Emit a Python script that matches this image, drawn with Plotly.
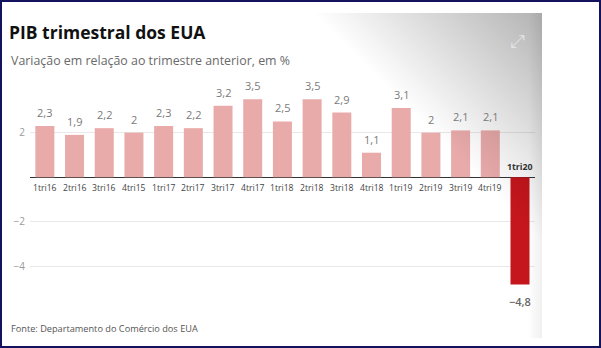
import base64
import plotly.graph_objects as go

categories = ["1tri16", "2tri16", "3tri16", "4tri15", "1tri17", "2tri17", "3tri17", "4tri17",
              "1tri18", "2tri18", "3tri18", "4tri18", "1tri19", "2tri19", "3tri19", "4tri19", "1tri20"]
values = [2.3, 1.9, 2.2, 2.0, 2.3, 2.2, 3.2, 3.5, 2.5, 3.5, 2.9, 1.1, 3.1, 2.0, 2.1, 2.1, -4.8]
y_tickvals = [-4, -2, 2]

W_FIG, H_FIG = 601, 348
L, T, PW, PH = 30, 88, 505, 212
Y_RANGE = [-5.5, 4.0]

PINK = "#e9aaaa"
RED = "#c4161c"
FONT = "Open Sans"


def fmt(v):
    s = ("%g" % abs(v)).replace(".", ",")
    return ("\u2212" + s) if v < 0 else s


def px_x(px):
    return (px - L) / PW


def px_y(py):
    return 1 - (py - T) / PH


colors = [RED if v < 0 else PINK for v in values]

fig = go.Figure()
fig.add_trace(go.Bar(x=categories, y=values, marker=dict(color=colors, line=dict(width=0)),
                     hoverinfo="skip"))

annotations = []
for c, v in zip(categories, values):
    if v >= 0:
        annotations.append(dict(x=c, y=v, text=fmt(v), showarrow=False, yanchor="bottom", yshift=4,
                                font=dict(family=FONT, size=11, color="#7a7a7a")))
        annotations.append(dict(x=c, y=0, text=c, showarrow=False, yanchor="top", yshift=-3,
                                font=dict(family=FONT, size=8.6, color="#444444")))
    else:
        annotations.append(dict(x=c, y=v, text=fmt(v), showarrow=False, yanchor="top", yshift=-8,
                                font=dict(family=FONT, size=11, color="#666666", weight=600)))
        annotations.append(dict(x=c, y=0, text=c, showarrow=False, yanchor="bottom", yshift=2,
                                font=dict(family=FONT, size=8.8, color="#333333", weight=700)))

annotations.append(dict(xref="paper", yref="paper", x=px_x(9), y=px_y(60), xanchor="left", yanchor="middle",
                        text="Variação em relação ao trimestre anterior, em %", showarrow=False,
                        font=dict(family=FONT, size=12.4, color="#6a6a6a")))
annotations.append(dict(xref="paper", yref="paper", x=px_x(9), y=px_y(328), xanchor="left", yanchor="middle",
                        text="Fonte: Departamento do Comércio dos EUA", showarrow=False,
                        font=dict(family=FONT, size=9.2, color="#555555")))
annotations.append(dict(xref="paper", yref="paper", x=px_x(517), y=px_y(40), xanchor="center", yanchor="middle",
                        text="\u2922", showarrow=False,
                        font=dict(family="DejaVu Sans", size=18, color="#e4e4e4")))

svg = f'''<svg xmlns="http://www.w3.org/2000/svg" width="{W_FIG}" height="{H_FIG}" viewBox="0 0 {W_FIG} {H_FIG}">
<defs><linearGradient id="g" gradientUnits="userSpaceOnUse" x1="542" y1="13" x2="427" y2="128">
<stop offset="0" stop-color="#000" stop-opacity="0.30"/><stop offset="1" stop-color="#000" stop-opacity="0"/>
</linearGradient>
<linearGradient id="h" gradientUnits="userSpaceOnUse" x1="542" y1="0" x2="528" y2="0">
<stop offset="0" stop-color="#000" stop-opacity="0.06"/><stop offset="1" stop-color="#000" stop-opacity="0"/>
</linearGradient></defs>
<rect x="300" y="13" width="242" height="335" fill="url(#g)"/>
<rect x="520" y="13" width="22" height="325" fill="url(#h)"/>
<rect x="1" y="1" width="599" height="346" fill="none" stroke="#12125e" stroke-width="2"/>
</svg>'''
src = "data:image/svg+xml;base64," + base64.b64encode(svg.encode()).decode()

fig.update_layout(
    width=W_FIG, height=H_FIG,
    margin=dict(l=L, r=W_FIG - L - PW, t=T, b=H_FIG - T - PH),
    paper_bgcolor="white", plot_bgcolor="white",
    bargap=0.36, showlegend=False,
    title=dict(text="PIB trimestral dos EUA", xref="container", yref="container",
               x=9 / W_FIG, y=1 - 33 / H_FIG, xanchor="left", yanchor="middle",
               font=dict(family=FONT, size=17.5, color="#111111", weight=700)),
    xaxis=dict(showticklabels=False, showgrid=False, zeroline=False, showline=False, ticks=""),
    yaxis=dict(range=Y_RANGE, tickvals=y_tickvals, showgrid=True, gridcolor="#e8e8e8", gridwidth=1,
               zeroline=True, zerolinecolor="#333333", zerolinewidth=1.3, showline=False,
               ticks="", ticklabelstandoff=4,
               tickfont=dict(family=FONT, size=10, color="#9a9a9a")),
    annotations=annotations,
    images=[dict(source=src, xref="paper", yref="paper", x=px_x(0), y=px_y(0),
                 sizex=W_FIG / PW, sizey=H_FIG / PH, xanchor="left", yanchor="top",
                 sizing="stretch", layer="above")],
)

fig.write_html("out.html")
